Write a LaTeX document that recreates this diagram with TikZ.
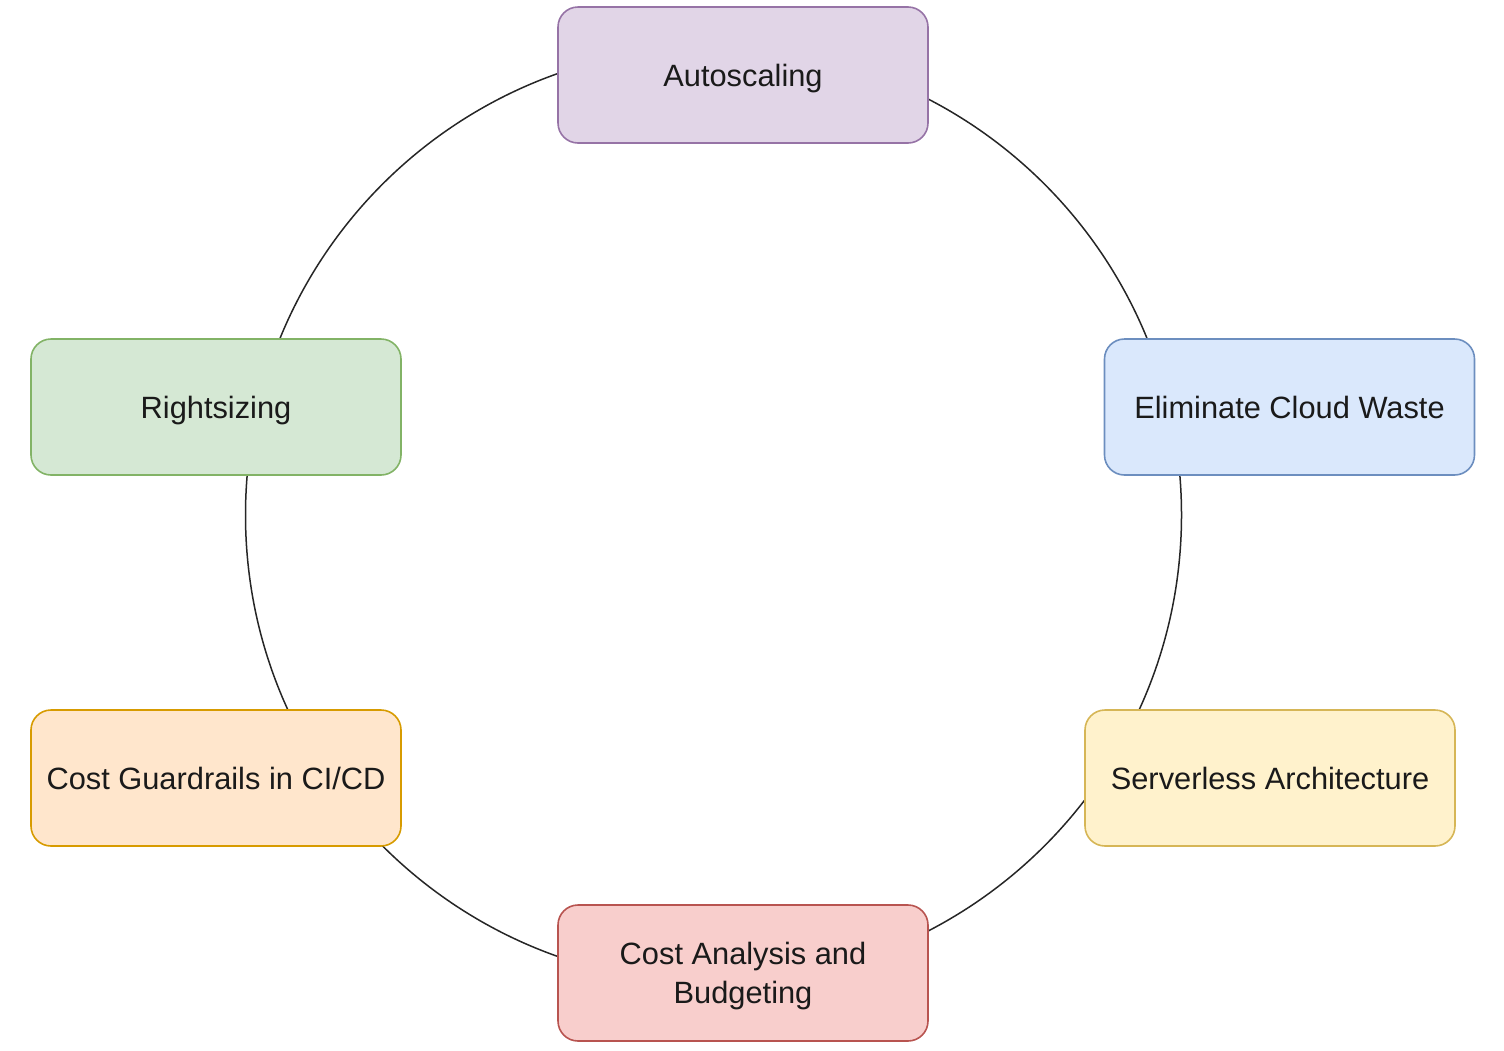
\documentclass[tikz,border=0pt]{standalone}
\usepackage{fontspec}
\setmainfont{Liberation Sans}
\definecolor{purF}{HTML}{E1D5E7}\definecolor{purD}{HTML}{9673A6}
\definecolor{bluF}{HTML}{DAE8FC}\definecolor{bluD}{HTML}{6C8EBF}
\definecolor{yelF}{HTML}{FFF2CC}\definecolor{yelD}{HTML}{D6B656}
\definecolor{redF}{HTML}{F8CECC}\definecolor{redD}{HTML}{B85450}
\definecolor{orgF}{HTML}{FFE6CC}\definecolor{orgD}{HTML}{D79B00}
\definecolor{grnF}{HTML}{D5E8D4}\definecolor{grnD}{HTML}{82B366}
\definecolor{txt}{HTML}{1A1A1A}
\begin{document}
\begin{tikzpicture}[x=1pt,y=-1pt,
  stepbox/.style={draw, line width=1.6pt, rounded corners=20pt, minimum width=370pt, minimum height=136pt,
    align=center, inner sep=0pt, text=txt, font=\fontsize{30.8}{39}\selectfont},
  oneline/.style={text height=28pt, text depth=6pt},
  ringline/.style={draw=black!85, line width=1.5pt}]
\path[use as bounding box] (0,0) rectangle (1504,1050);
\node[ringline, circle, minimum size=936pt, inner sep=0pt] (ring) at (713.5,515) {};
\node[stepbox, oneline, fill=purF, draw=purD] (auto) at (743,75) {Autoscaling};
\node[stepbox, oneline, fill=bluF, draw=bluD] (waste) at (1289.5,407) {Eliminate Cloud Waste};
\node[stepbox, oneline, fill=yelF, draw=yelD] (serverless) at (1270,778) {Serverless Architecture};
\node[stepbox, fill=redF, draw=redD, text depth=0pt] (cost) at (743,973) {Cost Analysis and\\Budgeting};
\node[stepbox, oneline, fill=orgF, draw=orgD] (guard) at (216,778) {Cost Guardrails in CI/CD};
\node[stepbox, oneline, fill=grnF, draw=grnD] (right) at (216,407) {Rightsizing};
\end{tikzpicture}
\end{document}
